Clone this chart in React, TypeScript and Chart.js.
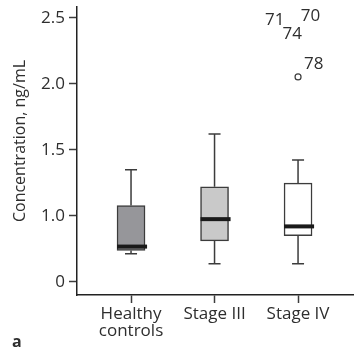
import { useEffect, useRef } from "react";
import { Chart, registerables } from "chart.js";

Chart.register(...registerables);

// Groups and box-plot statistics (ng/mL)
const groupLabels: string[][] = [["Healthy", "controls"], ["Stage III"], ["Stage IV"]];
const groupPos = [1, 2, 3];
const whiskerLow = [0.712, 0.636, 0.636];
const q1 = [0.737, 0.81, 0.85];
const median = [0.767, 0.975, 0.92];
const q3 = [1.078, 1.22, 1.248];
const whiskerHigh = [1.35, 1.62, 1.424];
const boxFill = ["#96969a", "#c9c9c9", "#ffffff"];

// Outlier inside the plotted range
const outlierIds = ["78"];
const outlierGroup = [3];
const outlierValue = [2.053];

// Extreme cases above the axis, marked only by their case numbers
const extremeIds = ["71", "74", "70"];
const extremeX = [2.72, 2.93, 3.15];
const extremeY = [2.485, 2.38, 2.51];

// Axis: the lowest tick stands for zero (broken axis)
const yTicks = [0.5, 1.0, 1.5, 2.0, 2.5];
const yTickLabels = ["0", "1.0", "1.5", "2.0", "2.5"];

const FONT = "'Open Sans', 'DejaVu Sans', sans-serif";
const TEXT = "#2e2e2e";
const LINE = "#3c3c3c";
const BOX_HALF = 0.168;
const CAP_HALF = 0.072;

const boxPlugin = {
  id: "boxWhiskers",
  afterDatasetsDraw(chart: any) {
    const { ctx, scales } = chart;
    const x = scales.x;
    const y = scales.y;
    ctx.save();
    groupPos.forEach((g, i) => {
      const cx = x.getPixelForValue(g);
      const capL = x.getPixelForValue(g - CAP_HALF);
      const capR = x.getPixelForValue(g + CAP_HALF);
      const yLo = y.getPixelForValue(whiskerLow[i]);
      const yQ1 = y.getPixelForValue(q1[i]);
      const yQ3 = y.getPixelForValue(q3[i]);
      const yHi = y.getPixelForValue(whiskerHigh[i]);
      ctx.strokeStyle = LINE;
      ctx.lineWidth = 1.5;
      ctx.beginPath();
      ctx.moveTo(cx, yQ3);
      ctx.lineTo(cx, yHi);
      ctx.moveTo(capL, yHi);
      ctx.lineTo(capR, yHi);
      ctx.moveTo(cx, yQ1);
      ctx.lineTo(cx, yLo);
      ctx.moveTo(capL, yLo);
      ctx.lineTo(capR, yLo);
      ctx.stroke();
      const mL = x.getPixelForValue(g - BOX_HALF);
      const mR = x.getPixelForValue(g + BOX_HALF) + 2;
      const yM = y.getPixelForValue(median[i]);
      ctx.strokeStyle = "#1a1a1a";
      ctx.lineWidth = 4;
      ctx.beginPath();
      ctx.moveTo(mL, yM);
      ctx.lineTo(mR, yM);
      ctx.stroke();
    });

    ctx.fillStyle = TEXT;
    ctx.font = `17px ${FONT}`;
    ctx.textBaseline = "middle";
    ctx.textAlign = "center";
    extremeIds.forEach((id, i) => {
      ctx.fillText(id, x.getPixelForValue(extremeX[i]), y.getPixelForValue(extremeY[i]));
    });
    ctx.textAlign = "left";
    outlierIds.forEach((id, i) => {
      const px = x.getPixelForValue(outlierGroup[i]);
      const py = y.getPixelForValue(outlierValue[i]);
      ctx.fillText(id, px + 6, py - 13);
    });

    // Axis title and panel letter
    ctx.save();
    ctx.font = `16px ${FONT}`;
    ctx.translate(20, 141);
    ctx.rotate(-Math.PI / 2);
    ctx.textAlign = "center";
    ctx.fillText("Concentration, ng/mL", 0, 0);
    ctx.restore();
    ctx.font = `bold 16px ${FONT}`;
    ctx.textAlign = "left";
    ctx.textBaseline = "alphabetic";
    ctx.fillText("a", 12, 347);
    ctx.restore();
  },
};

export default function App() {
  const ref = useRef<HTMLCanvasElement | null>(null);

  useEffect(() => {
    if (!ref.current) return;
    const chart = new Chart(ref.current, {
      type: "bar",
      data: {
        datasets: [
          {
            type: "bar",
            data: groupPos.map((g, i) => ({ x: g, y: [q1[i], q3[i]] })) as any,
            backgroundColor: boxFill,
            borderColor: LINE,
            borderWidth: 1.5,
            borderSkipped: false,
            barThickness: 28,
          } as any,
          {
            type: "scatter",
            data: outlierGroup.map((g, i) => ({ x: g, y: outlierValue[i] })),
            pointStyle: "circle",
            pointRadius: 3,
            pointBorderWidth: 1.2,
            pointBackgroundColor: "#ffffff",
            pointBorderColor: LINE,
          } as any,
        ],
      },
      options: {
        animation: false,
        responsive: true,
        maintainAspectRatio: false,
        layout: { autoPadding: false, padding: { top: 7, right: 0, bottom: 0, left: 0 } },
        plugins: { legend: { display: false }, tooltip: { enabled: false } },
        scales: {
          x: {
            type: "linear",
            offset: false,
            min: 0.353,
            max: 3.67,
            afterBuildTicks: (s: any) => {
              s.ticks = groupPos.map((v) => ({ value: v }));
            },
            afterFit: (s: any) => {
              s.height = 55;
              s.paddingRight = 0;
              s.paddingLeft = 0;
            },
            ticks: {
              autoSkip: false,
              maxRotation: 0,
              padding: 3,
              color: TEXT,
              font: { family: FONT, size: 17, lineHeight: 1.0 },
              callback: (v: any) => {
                const i = groupPos.indexOf(Number(v));
                return i >= 0 ? groupLabels[i] : "";
              },
            },
            grid: { offset: false, drawOnChartArea: false, tickLength: 8, tickColor: LINE, tickWidth: 1.5 },
            border: { display: true, color: "#222", width: 1.5 },
          },
          y: {
            type: "linear",
            min: 0.4,
            max: 2.583,
            afterBuildTicks: (s: any) => {
              s.ticks = yTicks.map((v) => ({ value: v }));
            },
            afterFit: (s: any) => {
              s.width = 77;
              s.paddingTop = 0;
              s.paddingBottom = 0;
            },
            ticks: {
              padding: 4,
              color: TEXT,
              font: { family: FONT, size: 17 },
              callback: (v: any) => {
                const i = yTicks.indexOf(Number(v));
                return i >= 0 ? yTickLabels[i] : "";
              },
            },
            grid: { drawOnChartArea: false, tickLength: 8, tickColor: LINE, tickWidth: 1.5 },
            border: { display: true, color: "#222", width: 1.5 },
          },
        },
      } as any,
      plugins: [boxPlugin],
    });
    return () => chart.destroy();
  }, []);

  return (
    <div style={{ position: "absolute", left: 0, top: 0, width: 354, height: 350, background: "#fff" }}>
      <canvas ref={ref} />
    </div>
  );
}
